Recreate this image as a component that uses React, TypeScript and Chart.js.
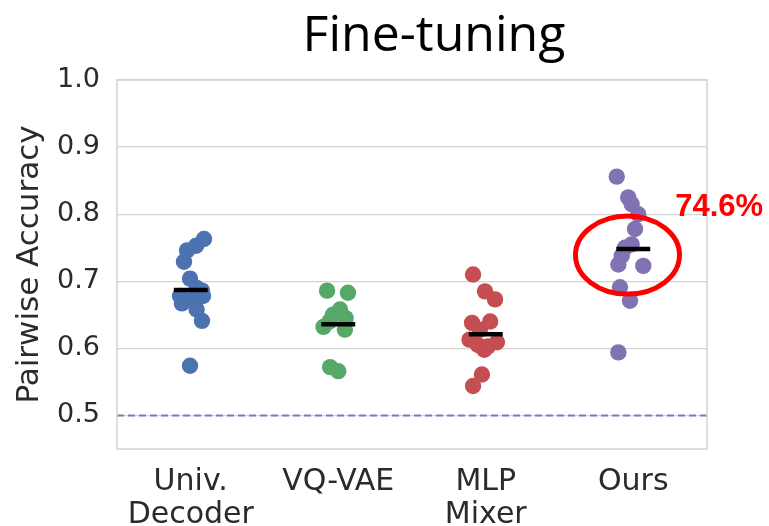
import { useEffect, useRef } from "react";
import { Chart, registerables } from "chart.js";

Chart.register(...registerables);

const categories: (string | string[])[] = [["Univ.", "Decoder"], "VQ-VAE", ["MLP", "Mixer"], "Ours"];
const yTicks = [0.5, 0.6, 0.7, 0.8, 0.9, 1.0];
const titleText = "Fine-tuning";
const yTitle = "Pairwise Accuracy";

const univValues = [0.763, 0.753, 0.746, 0.729, 0.704, 0.69, 0.686, 0.678, 0.678, 0.673, 0.667, 0.658, 0.641, 0.574];
const univJitter = [0.09, 0.036, -0.025, -0.046, -0.005, 0.04, 0.076, 0.083, -0.073, 0.008, -0.06, 0.04, 0.076, -0.005];

const vqValues = [0.686, 0.683, 0.658, 0.65, 0.645, 0.64, 0.632, 0.628, 0.572, 0.566];
const vqJitter = [-0.076, 0.066, 0.012, -0.036, 0.05, -0.06, -0.1, 0.045, -0.055, 0.0];

const mlpValues = [0.71, 0.685, 0.673, 0.638, 0.64, 0.628, 0.613, 0.605, 0.603, 0.609, 0.598, 0.561, 0.544];
const mlpJitter = [-0.086, -0.005, 0.063, -0.093, 0.03, -0.04, -0.11, -0.053, 0.015, 0.076, -0.01, -0.026, -0.086];

const oursValues = [0.856, 0.825, 0.815, 0.8, 0.778, 0.755, 0.75, 0.738, 0.725, 0.723, 0.691, 0.671, 0.594];
const oursJitter = [-0.112, -0.034, -0.011, 0.034, 0.012, -0.011, -0.056, -0.078, -0.101, 0.068, -0.09, -0.022, -0.101];

const means = [0.687, 0.636, 0.621, 0.748];
const baselineValue = 0.5;
const highlightLabel = "74.6%";
const highlightCenter = { x: 2.961, y: 0.739 };

const colors = ["#4C72B0", "#55A868", "#C44E52", "#8172B2"];

export default function App() {
  const ref = useRef<HTMLCanvasElement | null>(null);

  useEffect(() => {
    const canvas = ref.current;
    if (!canvas) return;

    const groups = [
      [univValues, univJitter],
      [vqValues, vqJitter],
      [mlpValues, mlpJitter],
      [oursValues, oursJitter],
    ];

    const pointSets: any[] = groups.map(([vals, jit], i) => ({
      type: "scatter",
      data: vals.map((v, k) => ({ x: i + jit[k], y: v })),
      backgroundColor: colors[i],
      borderWidth: 0,
      pointRadius: 8.2,
      pointHoverRadius: 8.2,
      order: 2,
    }));

    const halfWidth = 0.115;
    const meanSets: any[] = means.map((m, i) => ({
      type: "line",
      data: [
        { x: i - halfWidth, y: m },
        { x: i + halfWidth, y: m },
      ],
      borderColor: "#000000",
      borderWidth: 4.5,
      pointRadius: 0,
      fill: false,
      order: 1,
    }));

    const overlay = {
      id: "overlay",
      beforeDatasetsDraw(chart: any) {
        const { ctx, chartArea, scales } = chart;
        const y0 = scales.y.getPixelForValue(baselineValue);
        ctx.save();
        ctx.strokeStyle = "#6f80c0";
        ctx.lineWidth = 2;
        ctx.setLineDash([7, 4]);
        ctx.beginPath();
        ctx.moveTo(chartArea.left, y0);
        ctx.lineTo(chartArea.right, y0);
        ctx.stroke();
        ctx.restore();
      },
      afterDraw(chart: any) {
        const { ctx, chartArea, scales } = chart;
        ctx.save();
        // frame
        ctx.strokeStyle = "#d2d2d2";
        ctx.lineWidth = 1.5;
        ctx.strokeRect(chartArea.left, chartArea.top, chartArea.right - chartArea.left, chartArea.bottom - chartArea.top);
        // title
        ctx.fillStyle = "#000000";
        ctx.font = "50px 'Open Sans'";
        ctx.textAlign = "center";
        ctx.textBaseline = "alphabetic";
        ctx.fillText(titleText, 434, 51);
        // ellipse
        const cx = scales.x.getPixelForValue(highlightCenter.x);
        const cy = scales.y.getPixelForValue(highlightCenter.y);
        ctx.strokeStyle = "#FF0000";
        ctx.lineWidth = 5;
        ctx.beginPath();
        ctx.ellipse(cx, cy, 52, 39, 0, 0, Math.PI * 2);
        ctx.stroke();
        // label
        ctx.fillStyle = "#FF0000";
        ctx.font = "bold 31px 'Liberation Sans'";
        ctx.textAlign = "left";
        ctx.textBaseline = "middle";
        ctx.fillText(highlightLabel, scales.x.getPixelForValue(3) + 42, scales.y.getPixelForValue(0.81));
        ctx.restore();
      },
    };

    const chart = new Chart(canvas, {
      data: { datasets: [...meanSets, ...pointSets] },
      options: {
        animation: false,
        responsive: false,
        events: [],
        layout: { padding: { left: 0, top: 80, right: 62, bottom: 0 } },
        plugins: { legend: { display: false }, tooltip: { enabled: false }, title: { display: false } },
        scales: {
          x: {
            type: "linear",
            min: -0.5,
            max: 3.5,
            afterBuildTicks: (scale: any) => {
              scale.ticks = categories.map((_, i) => ({ value: i }));
            },
            afterFit: (scale: any) => {
              scale.height = 77;
            },
            grid: { display: false, drawTicks: false },
            border: { display: false },
            ticks: {
              autoSkip: false,
              maxRotation: 0,
              padding: 16,
              color: "#2b2b2b",
              font: { family: "'DejaVu Sans'", size: 30, lineHeight: 1.12 },
              callback: (v: any) => categories[Math.round(Number(v))] as any,
            },
          },
          y: {
            type: "linear",
            min: 0.45,
            max: 1.0,
            afterBuildTicks: (scale: any) => {
              scale.ticks = yTicks.map((v) => ({ value: v }));
            },
            afterFit: (scale: any) => {
              scale.width = 117;
            },
            grid: { color: "#d4d4d4", lineWidth: 1.2, drawTicks: false },
            border: { display: false },
            title: {
              display: true,
              text: yTitle,
              color: "#2b2b2b",
              font: { family: "'DejaVu Sans'", size: 31 },
              padding: { top: 11, bottom: 0 },
            },
            ticks: {
              padding: 17,
              color: "#2b2b2b",
              font: { family: "'DejaVu Sans'", size: 27 },
              callback: (v: any) => Number(v).toFixed(1),
            },
          },
        },
      } as any,
      plugins: [overlay],
    } as any);

    return () => chart.destroy();
  }, []);

  return (
    <div style={{ position: "fixed", left: 0, top: 0, width: 769, height: 526, background: "#ffffff" }}>
      <canvas ref={ref} width={769} height={526} style={{ width: 769, height: 526, display: "block" }} />
    </div>
  );
}
